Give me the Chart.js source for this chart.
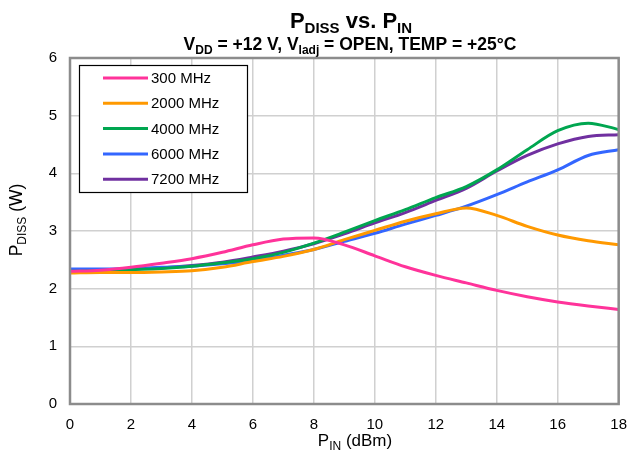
<!DOCTYPE html>
<html>
<head>
<meta charset="utf-8">
<script src="https://cdn.jsdelivr.net/npm/chart.js@4.4.1/dist/chart.umd.min.js"></script>
<style>
  html, body { margin: 0; padding: 0; background: #fff; }
  #wrap { width: 639px; height: 457px; }
</style>
</head>
<body>
<div id="wrap"><canvas id="pdissChart" width="639" height="457"></canvas></div>
<script>
// input power (dBm)
const pin = [0, 1, 2, 3, 4, 5, 6, 7, 8, 9, 10, 11, 12, 13, 14, 15, 16, 17, 18];

// dissipated power (W)
const p300  = [2.30, 2.32, 2.37, 2.44, 2.52, 2.63, 2.76, 2.86, 2.88, 2.76, 2.57, 2.38, 2.23, 2.10, 1.97, 1.86, 1.77, 1.70, 1.64];
const p2000 = [2.27, 2.28, 2.28, 2.29, 2.31, 2.37, 2.47, 2.56, 2.68, 2.85, 3.01, 3.17, 3.30, 3.40, 3.27, 3.08, 2.93, 2.83, 2.76];
const p4000 = [2.30, 2.31, 2.33, 2.35, 2.39, 2.45, 2.52, 2.63, 2.79, 2.98, 3.18, 3.37, 3.58, 3.77, 4.06, 4.41, 4.74, 4.87, 4.76];
const p6000 = [2.34, 2.34, 2.35, 2.37, 2.39, 2.43, 2.49, 2.58, 2.68, 2.82, 2.96, 3.12, 3.27, 3.43, 3.63, 3.85, 4.06, 4.31, 4.41];
const p7200 = [2.30, 2.31, 2.34, 2.36, 2.40, 2.46, 2.55, 2.65, 2.78, 2.95, 3.14, 3.32, 3.53, 3.74, 4.04, 4.31, 4.51, 4.64, 4.67];

const seriesNames = ["300 MHz", "2000 MHz", "4000 MHz", "6000 MHz", "7200 MHz"];
const seriesColors = ["#ff339a", "#ff9900", "#00a650", "#3366ff", "#7030a0"];
const seriesValues = [p300, p2000, p4000, p6000, p7200];

const FONT = "'Liberation Sans', Arial, sans-serif";

// draw text with subscripts: parts = [[text, isSub], ...]
function richText(ctx, parts, x, y, size, bold, align) {
  const w = bold ? "bold " : "";
  const subSize = Math.round(size * 0.68);
  let total = 0;
  parts.forEach(([t, sub]) => {
    ctx.font = w + (sub ? subSize : size) + "px " + FONT;
    total += ctx.measureText(t).width;
  });
  let cx = align === "center" ? x - total / 2 : x;
  ctx.textBaseline = "alphabetic";
  ctx.textAlign = "left";
  parts.forEach(([t, sub]) => {
    ctx.font = w + (sub ? subSize : size) + "px " + FONT;
    ctx.fillText(t, cx, sub ? y + size * 0.22 : y);
    cx += ctx.measureText(t).width;
  });
}

// titles, axis titles, frame and legend box
const decorPlugin = {
  id: "decor",
  afterDraw(chart) {
    const ctx = chart.ctx;
    const a = chart.chartArea;
    ctx.save();
    ctx.fillStyle = "#000";

    richText(ctx, [["P", false], ["DISS", true], [" vs. P", false], ["IN", true]], 351, 28, 22, true, "center");
    richText(ctx, [["V", false], ["DD", true], [" = +12 V, V", false], ["ladj", true], [" = OPEN, TEMP = +25°C", false]], 350, 50, 17.5, true, "center");

    richText(ctx, [["P", false], ["IN", true], [" (dBm)", false]], 355, 446, 17, false, "center");

    ctx.save();
    ctx.translate(22, 220);
    ctx.rotate(-Math.PI / 2);
    richText(ctx, [["P", false], ["DISS", true], [" (W)", false]], 0, 0, 17.5, false, "center");
    ctx.restore();

    // plot frame
    ctx.strokeStyle = "#8c8c8c";
    ctx.lineWidth = 2.5;
    ctx.strokeRect(a.left, a.top, a.right - a.left, a.bottom - a.top);

    // legend
    const lx = 79, ly = 65, lw = 168, lh = 127;
    ctx.fillStyle = "#fff";
    ctx.fillRect(lx, ly, lw, lh);
    ctx.strokeStyle = "#000";
    ctx.lineWidth = 1.2;
    ctx.strokeRect(lx + 0.5, ly + 0.5, lw, lh);
    seriesNames.forEach((name, i) => {
      const yy = 78 + i * 25.3;
      ctx.strokeStyle = seriesColors[i];
      ctx.lineWidth = 3;
      ctx.beginPath();
      ctx.moveTo(103, yy);
      ctx.lineTo(148, yy);
      ctx.stroke();
      ctx.fillStyle = "#000";
      ctx.font = "15px " + FONT;
      ctx.textAlign = "left";
      ctx.textBaseline = "middle";
      ctx.fillText(name, 151, yy + 1);
    });
    ctx.restore();
  }
};

const datasets = seriesNames.map((name, i) => ({
  label: name,
  data: pin.map((x, j) => ({ x: x, y: seriesValues[i][j] })),
  borderColor: seriesColors[i],
  backgroundColor: seriesColors[i],
  borderWidth: 3,
  pointRadius: 0,
  cubicInterpolationMode: "monotone",
  fill: false
}));

new Chart(document.getElementById("pdissChart"), {
  type: "line",
  data: { datasets: datasets },
  plugins: [decorPlugin],
  options: {
    responsive: false,
    animation: false,
    devicePixelRatio: 1,
    layout: { padding: { top: 58, right: 11, bottom: 0, left: 0 } },
    plugins: {
      legend: { display: false },
      title: { display: false },
      tooltip: { enabled: false }
    },
    scales: {
      x: {
        type: "linear",
        min: 0,
        max: 18,
        ticks: { stepSize: 2, color: "#000", font: { family: FONT, size: 15 }, padding: 12, maxRotation: 0 },
        grid: { color: "#d0d0d0", lineWidth: 1.5, drawTicks: false },
        border: { display: false },
        afterFit: (s) => { s.height = 53; }
      },
      y: {
        min: 0,
        max: 6,
        ticks: { stepSize: 1, color: "#000", font: { family: FONT, size: 15 }, padding: 13 },
        grid: { color: "#d0d0d0", lineWidth: 1.5, drawTicks: false },
        border: { display: false },
        afterFit: (s) => { s.width = 70; }
      }
    }
  }
});
</script>
</body>
</html>
